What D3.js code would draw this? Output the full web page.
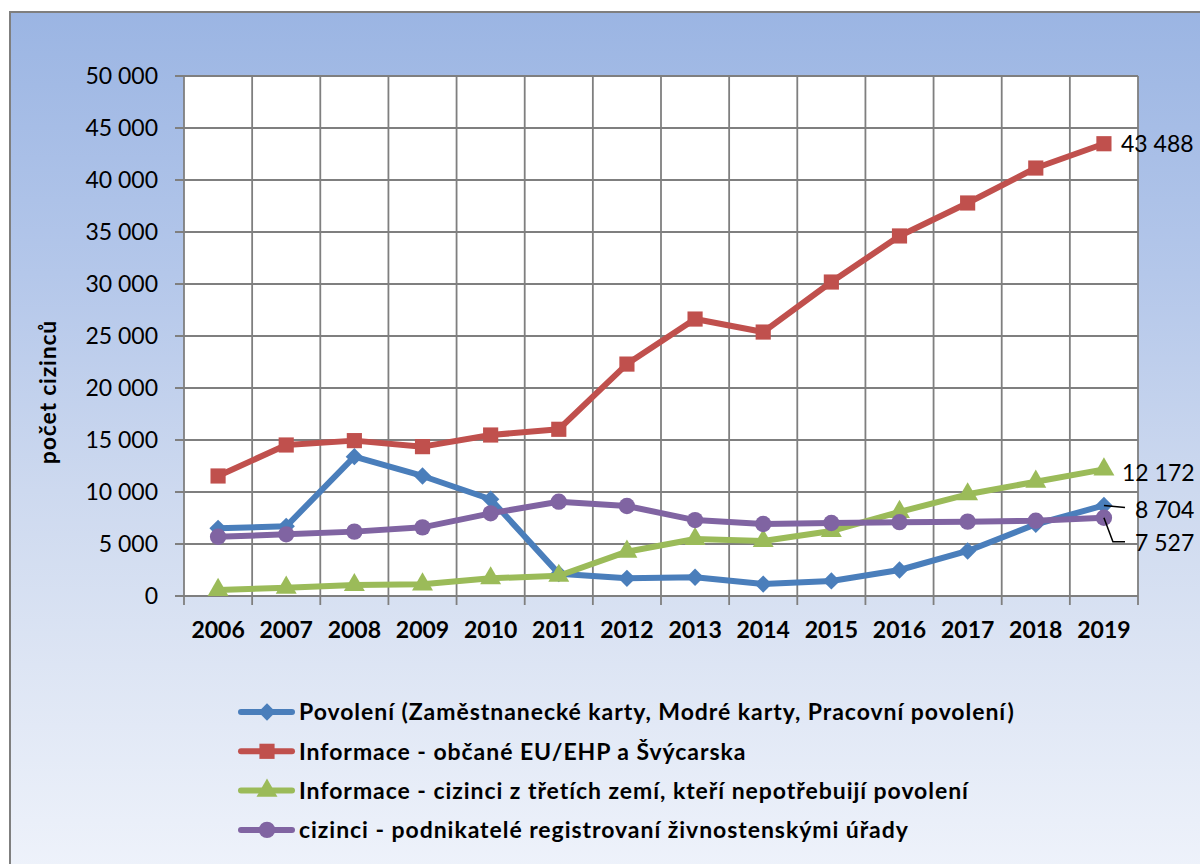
<!DOCTYPE html>
<html><head><meta charset="utf-8">
<script src="https://cdn.jsdelivr.net/npm/d3@7"></script>
<style>html,body{margin:0;padding:0;background:#fff;}svg{display:block;}</style>
</head><body>
<svg id="c" width="1200" height="864"></svg>
<script>
const years = ["2006","2007","2008","2009","2010","2011","2012","2013","2014","2015","2016","2017","2018","2019"];
const povoleni = [6510, 6700, 13400, 11540, 9300, 2150, 1700, 1800, 1150, 1450, 2500, 4330, 6900, 8704];
const obcaneEU = [11540, 14520, 14940, 14360, 15480, 16030, 22300, 26630, 25380, 30190, 34620, 37790, 41150, 43488];
const tretiZeme = [580, 800, 1060, 1120, 1700, 1950, 4260, 5480, 5290, 6250, 8080, 9780, 10990, 12172];
const podnikatele = [5700, 5930, 6190, 6600, 7950, 9070, 8650, 7300, 6920, 7020, 7100, 7150, 7240, 7527];
const seriesNames = [
  "Povolení (Zaměstnanecké karty, Modré karty, Pracovní povolení)",
  "Informace - občané EU/EHP a Švýcarska",
  "Informace - cizinci z třetích zemí, kteří nepotřebuijí povolení",
  "cizinci - podnikatelé registrovaní živnostenskými úřady"
];
const yTicks = [0, 5000, 10000, 15000, 20000, 25000, 30000, 35000, 40000, 45000, 50000];
const yTitle = "počet cizinců";

const series = [
  {name: seriesNames[0], values: povoleni, color: "#4a7ebb", marker: "diamond"},
  {name: seriesNames[1], values: obcaneEU, color: "#c0504d", marker: "square"},
  {name: seriesNames[2], values: tretiZeme, color: "#9bbb59", marker: "triangle"},
  {name: seriesNames[3], values: podnikatele, color: "#8064a2", marker: "circle"}
];

const FONT = "Lato, 'Noto Sans', sans-serif";
const svg = d3.select("#c");
const defs = svg.append("defs");
const grad = defs.append("linearGradient").attr("id","bg").attr("x1",0).attr("y1",0).attr("x2",0).attr("y2",1);
[[0,"#9bb5e3"],[0.3,"#b4c7ea"],[0.55,"#cdd9ef"],[0.75,"#dde5f4"],[1,"#eff3fb"]].forEach(([o,c])=>grad.append("stop").attr("offset",o).attr("stop-color",c));

svg.append("rect").attr("x",10).attr("y",12).attr("width",1200).attr("height",870)
  .attr("fill","url(#bg)").attr("stroke","#7f7f7f").attr("stroke-width",2);

const L = 184, R = 1138, T = 76, B = 596;
const x = d3.scaleBand().domain(years).range([L, R]).padding(0);
const y = d3.scaleLinear().domain([0, 50000]).range([B, T]);
const fmt = d3.formatLocale({decimal: ",", thousands: " ", grouping: [3], currency: ["", ""]}).format(",");

svg.append("rect").attr("x",L).attr("y",T).attr("width",R-L).attr("height",B-T).attr("fill","#fff");

// grid
const g = svg.append("g");
g.selectAll("line.h").data(yTicks).join("line")
  .attr("x1",L-9).attr("x2",R).attr("y1",d=>y(d)).attr("y2",d=>y(d))
  .attr("stroke","#7f7f7f").attr("stroke-width",1.8);
const bounds = years.map(d=>x(d)).concat([R]);
g.selectAll("line.v").data(bounds).join("line")
  .attr("x1",d=>d).attr("x2",d=>d).attr("y1",T).attr("y2",B+9)
  .attr("stroke","#7f7f7f").attr("stroke-width",1.8);

// y labels
svg.append("g").selectAll("text").data(yTicks).join("text")
  .attr("x",158).attr("y",d=>y(d)).attr("dy","0.36em").attr("text-anchor","end")
  .attr("font-family",FONT).attr("font-size",23).attr("fill","#000").text(d=>fmt(d));

// x labels
svg.append("g").selectAll("text").data(years).join("text")
  .attr("x",d=>x(d)+x.bandwidth()/2).attr("y",630).attr("dy","0.36em").attr("text-anchor","middle")
  .attr("font-family",FONT).attr("font-weight","bold").attr("font-size",23).attr("fill","#000").text(d=>d);

// y title
svg.append("text").attr("transform","translate(48,392) rotate(-90)").attr("text-anchor","middle").attr("dy","0.36em")
  .attr("font-family",FONT).attr("font-weight","bold").attr("font-size",23).attr("letter-spacing","0.8px").text(yTitle);

function markerPath(type){
  if(type==="diamond") return d3.symbol(d3.symbolSquare, 150)();
  if(type==="square") return d3.symbol(d3.symbolSquare, 230)();
  if(type==="triangle") return d3.symbol(d3.symbolTriangle, 190)();
  return d3.symbol(d3.symbolCircle, 210)();
}
function markerTransform(type, px, py){
  return type==="diamond" ? `translate(${px},${py}) rotate(45)` : `translate(${px},${py})`;
}

const cx = d=>x(d)+x.bandwidth()/2;
const line = d3.line().x((v,i)=>cx(years[i])).y(v=>y(v));
series.forEach(s=>{
  const sg = svg.append("g");
  sg.append("path").attr("d",line(s.values)).attr("fill","none").attr("stroke",s.color)
    .attr("stroke-width",6).attr("stroke-linejoin","round").attr("stroke-linecap","round");
  sg.selectAll("path.m").data(s.values).join("path")
    .attr("d",markerPath(s.marker)).attr("transform",(v,i)=>markerTransform(s.marker,cx(years[i]),y(v)))
    .attr("fill",s.color);
});

// end labels
const lastX = cx(years[years.length-1]);
const n = years.length-1;
const lab = svg.append("g").attr("font-family",FONT).attr("font-size",23).attr("fill","#000");
lab.append("text").attr("x",1121).attr("y",y(obcaneEU[n])).attr("dy","0.36em").text(fmt(obcaneEU[n]));
lab.append("text").attr("x",1122).attr("y",y(tretiZeme[n])+3).attr("dy","0.36em").text(fmt(tretiZeme[n]));
lab.append("text").attr("x",1135).attr("y",y(povoleni[n])+4).attr("dy","0.36em").text(fmt(povoleni[n]));
lab.append("text").attr("x",1135).attr("y",y(podnikatele[n])+25).attr("dy","0.36em").text(fmt(podnikatele[n]));
svg.append("path").attr("d",`M${lastX},${y(povoleni[n])} L1125,${y(povoleni[n])+2}`).attr("stroke","#000").attr("stroke-width",1.5).attr("fill","none");
svg.append("path").attr("d",`M${lastX},${y(podnikatele[n])} L${lastX+9},${y(podnikatele[n])+24} L1125,${y(podnikatele[n])+24}`).attr("stroke","#000").attr("stroke-width",1.5).attr("fill","none");

// legend
const lg = svg.append("g");
series.forEach((s,i)=>{
  const ly = 712 + i*39.3;
  lg.append("line").attr("x1",241).attr("x2",292).attr("y1",ly).attr("y2",ly).attr("stroke",s.color).attr("stroke-width",6).attr("stroke-linecap","round");
  lg.append("path").attr("d",markerPath(s.marker)).attr("transform",markerTransform(s.marker,267,ly)).attr("fill",s.color);
  lg.append("text").attr("x",299).attr("y",ly).attr("dy","0.36em").attr("font-family",FONT).attr("font-weight","bold")
    .attr("font-size",23).attr("letter-spacing","0.95px").attr("fill","#000").text(s.name);
});
</script>
</body></html>
